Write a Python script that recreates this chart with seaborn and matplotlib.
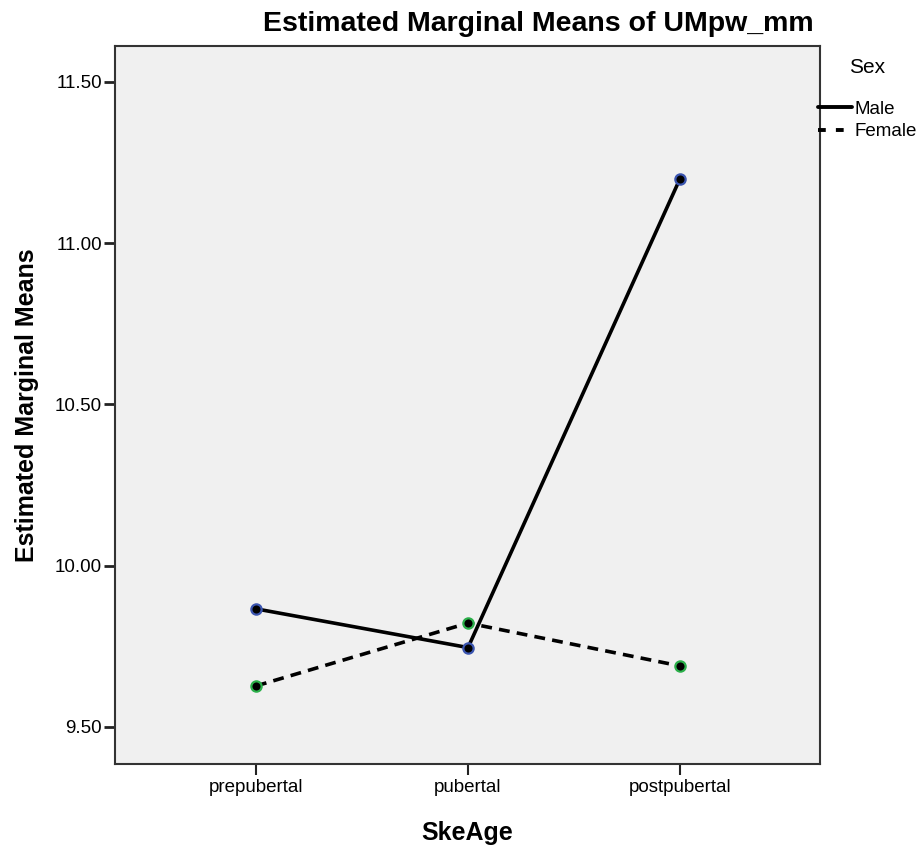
import matplotlib
matplotlib.use("Agg")
import matplotlib.pyplot as plt
from matplotlib.lines import Line2D
import seaborn as sns
import pandas as pd

skeage = ["prepubertal", "pubertal", "postpubertal"]
male_means = [9.866, 9.746, 11.200]
female_means = [9.627, 9.822, 9.689]
sex_levels = ["Male", "Female"]
y_ticks = [9.50, 10.00, 10.50, 11.00, 11.50]

df = pd.DataFrame({
    "SkeAge": skeage * 2,
    "Mean": male_means + female_means,
    "Sex": ["Male"] * 3 + ["Female"] * 3,
})
df["pos"] = df["SkeAge"].map({c: i for i, c in enumerate(skeage)})

sns.set_style("white")
plt.rcParams["font.family"] = ["Liberation Sans", "DejaVu Sans"]
plt.rcParams.update({
    "text.color": "black",
    "axes.labelcolor": "black",
    "xtick.color": "black",
    "ytick.color": "black",
})

fig = plt.figure(figsize=(9.22, 8.49), dpi=100)
ax = fig.add_axes([115 / 922, 1 - 764 / 849, (820 - 115) / 922, (764 - 46) / 849])
ax.set_facecolor("#f0f0f0")

female_dash = (3.0, 2.0)
sns.lineplot(data=df, x="pos", y="Mean", style="Sex", style_order=sex_levels,
             dashes={"Male": "", "Female": female_dash}, color="black",
             linewidth=2.6, ax=ax, legend=False, sort=False)

edge_colors = {"Male": "#3b55b0", "Female": "#2bb04a"}
for sex in sex_levels:
    sub = df[df["Sex"] == sex]
    sns.scatterplot(data=sub, x="pos", y="Mean", color="black", s=55,
                    edgecolor=edge_colors[sex], linewidth=1.6, ax=ax,
                    legend=False, zorder=5)

ax.set_xlim(-0.665, 2.66)
ax.set_ylim(9.385, 11.611)
ax.set_xticks(range(len(skeage)))
ax.set_xticklabels(skeage)
ax.set_yticks(y_ticks)
ax.set_yticklabels([f"{v:.2f}" for v in y_ticks])
ax.tick_params(axis="x", direction="out", length=8, width=1.5, color="#222222",
               labelsize=13.5, pad=3, bottom=True)
ax.tick_params(axis="y", direction="out", length=8, width=2, color="#222222",
               labelsize=13.5, pad=1.5, left=True)
for sp in ax.spines.values():
    sp.set_visible(True)
    sp.set_color("#333333")
    sp.set_linewidth(1.5)

ax.set_xlabel("SkeAge", fontsize=18, fontweight="bold", labelpad=18)
ax.set_ylabel("Estimated Marginal Means", fontsize=18, fontweight="bold",
              labelpad=11)
fig.text(538 / 922, 1 - 31 / 849, "Estimated Marginal Means of UMpw_mm",
         ha="center", va="baseline", fontsize=20.5, fontweight="bold")

handles = [Line2D([], [], color="black", linewidth=2.8, linestyle="-"),
           Line2D([], [], color="black", linewidth=2.8,
                  linestyle=(0, (2.0, 2.6)))]
leg = fig.legend(handles, sex_levels, title="Sex", loc="upper left",
                 bbox_to_anchor=(818 / 922, 1 - 58 / 849), frameon=False,
                 handlelength=1.8, handletextpad=0.15, labelspacing=0.3,
                 fontsize=13.5, title_fontsize=15, borderaxespad=0,
                 borderpad=0)
leg._legend_box.align = "center"
leg._legend_box.sep = 17

fig.savefig("out.png", dpi=100)
